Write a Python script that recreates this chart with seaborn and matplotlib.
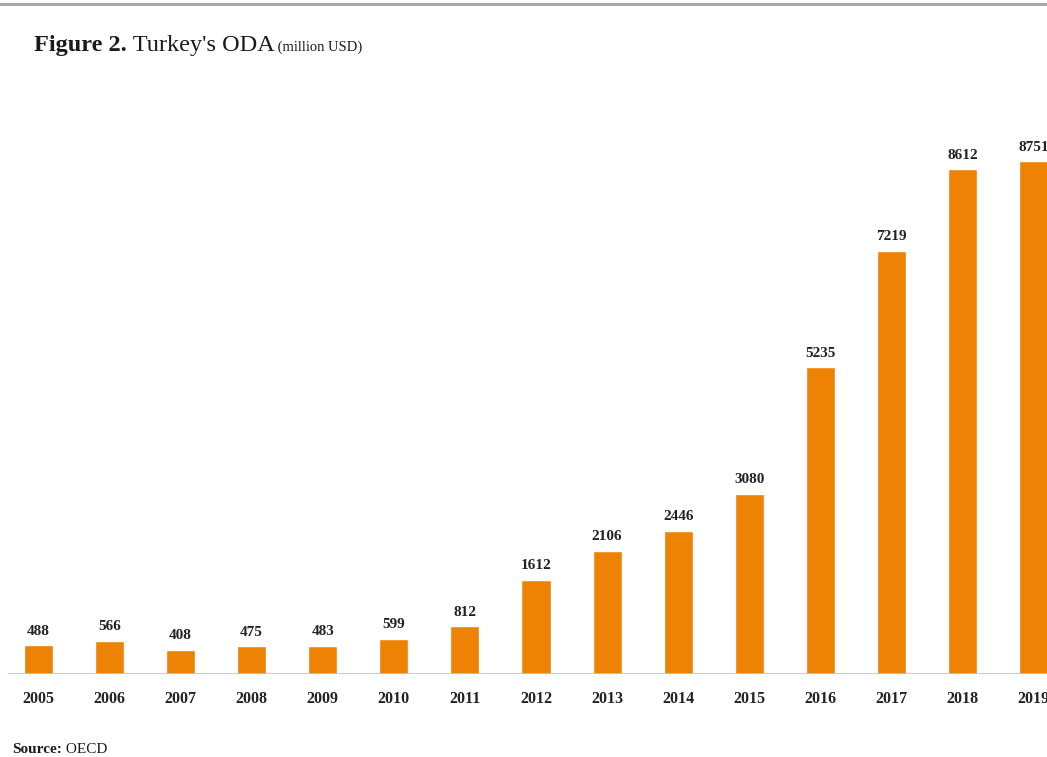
import matplotlib
matplotlib.use("Agg")
import matplotlib.pyplot as plt
import seaborn as sns
import pandas as pd
from matplotlib.lines import Line2D

# Turkey's official development assistance, million USD
years = ["2005", "2006", "2007", "2008", "2009", "2010", "2011", "2012",
         "2013", "2014", "2015", "2016", "2017", "2018", "2019"]
oda = [488, 566, 408, 475, 483, 599, 812, 1612, 2106, 2446, 3080, 5235,
       7219, 8612, 8751]

sns.set_theme(style="white")
plt.rcParams["font.family"] = ["Liberation Serif", "DejaVu Serif"]

W, H = 1047, 757
fig = plt.figure(figsize=(W / 100, H / 100), dpi=100)

# axes run a little past the right edge, so the last bar is cut off
step = 71.1
x0 = 38.3
left_px = x0 - 0.42 * step
right_px = x0 + 14.5 * step
ax = fig.add_axes([left_px / W, 83 / H, (right_px - left_px) / W, 586 / H])
df = pd.DataFrame({"year": years, "oda": oda})
sns.barplot(data=df, x="year", y="oda", color="#EE8204", saturation=1,
            width=0.41, ax=ax)
ax.set_xlim(-0.42, 14.5)
ax.set_ylim(0, 10000)

for s in ax.spines.values():
    s.set_visible(False)
ax.axhline(0, color="#B7C3DA", lw=1.2, zorder=5)
ax.set_yticks([])
ax.set_xlabel("")
ax.set_ylabel("")
ax.tick_params(axis="x", length=0, pad=12.5)
for lbl in ax.get_xticklabels():
    lbl.set_fontweight("bold")
    lbl.set_fontsize(11.5)
    lbl.set_color("#222222")

for i, v in enumerate(oda):
    ax.annotate(f"{v}", (i, v), xytext=(0, 5.5), textcoords="offset points",
                ha="center", va="bottom", fontsize=11, fontweight="bold",
                color="#222222")

# rule across the top of the page
fig.add_artist(Line2D([0, 1], [1 - 4 / H, 1 - 4 / H], color="#A8A8A8",
                      lw=2.2, transform=fig.transFigure))

renderer = fig.canvas.get_renderer()


def run_text(x, y, parts):
    """Draw consecutive text pieces with different styles on one line."""
    for txt, kw in parts:
        t = fig.text(x, y, txt, ha="left", va="baseline",
                     transform=fig.transFigure, color="#1a1a1a", **kw)
        bb = t.get_window_extent(renderer=renderer)
        x = bb.x1 / W


run_text(34 / W, 1 - 51 / H, [
    ("Figure 2.", dict(fontsize=17.5, fontweight="bold")),
    (" Turkey's ODA", dict(fontsize=17.5)),
    (" (million USD)", dict(fontsize=10.5)),
])

run_text(12 / W, 1 - 753 / H, [
    ("Source:", dict(fontsize=11, fontweight="bold")),
    (" OECD", dict(fontsize=11)),
])

fig.savefig("out.png", dpi=100)
